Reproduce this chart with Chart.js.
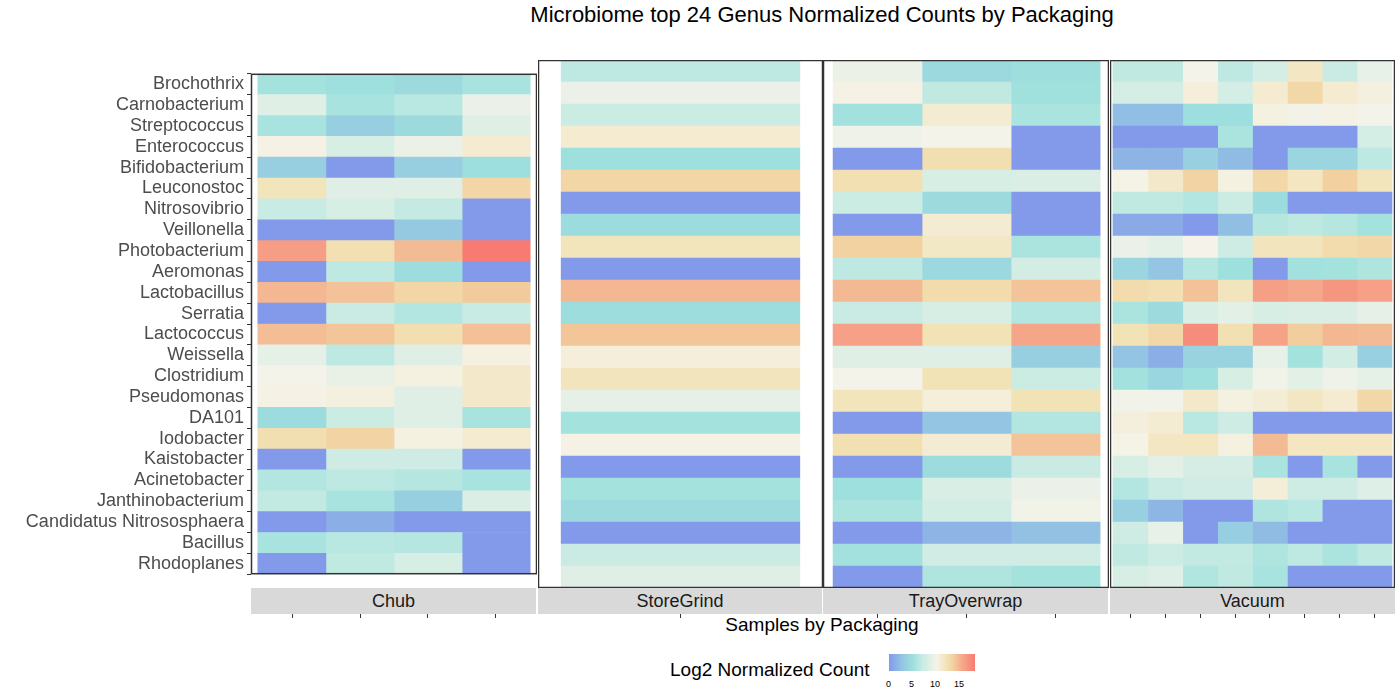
<!DOCTYPE html>
<html>
<head>
<meta charset="UTF-8">
<title>Microbiome heatmap</title>
<script src="https://cdn.jsdelivr.net/npm/chart.js"></script>
<style>
  body { margin: 0; width: 1400px; height: 700px; background: #fff; font-family: "Liberation Sans", Arial, sans-serif; position: relative; overflow: hidden; }
  .abs { position: absolute; }
  .strip { position: absolute; top: 588px; height: 26px; background: #d9d9d9; color: #1a1a1a; font-size: 18px; text-align: center; line-height: 26px; }
  .tick { position: absolute; top: 614px; width: 1px; height: 4px; background: #333; }
</style>
</head>
<body>
<div class="abs" style="left:0;width:1644px;top:2px;text-align:center;font-size:22px;color:#000">Microbiome top 24 Genus Normalized Counts by Packaging</div>

<div class="abs" style="left:0;top:60px;width:537px;height:528px"><canvas id="c0"></canvas></div>
<div class="abs" style="left:538px;top:60px;width:285px;height:528px"><canvas id="c1"></canvas></div>
<div class="abs" style="left:823px;top:60px;width:286px;height:528px"><canvas id="c2"></canvas></div>
<div class="abs" style="left:1110px;top:60px;width:285px;height:528px"><canvas id="c3"></canvas></div>

<div class="strip" style="left:251px;width:285px">Chub</div>
<div class="strip" style="left:538px;width:284px">StoreGrind</div>
<div class="strip" style="left:823px;width:285px">TrayOverwrap</div>
<div class="strip" style="left:1110px;width:285px">Vacuum</div>
<div id="ticks"></div>

<div class="abs" style="left:0;width:1644px;top:614px;text-align:center;font-size:19px;color:#000">Samples by Packaging</div>

<div class="abs" style="left:670px;top:659px;font-size:19px;color:#000">Log2 Normalized Count</div>
<div id="bar" class="abs" style="left:889px;top:654px;width:86px;height:17px"></div>
<div class="abs" style="left:886px;top:679px;font-size:9px;color:#000">0</div>
<div class="abs" style="left:909px;top:679px;font-size:9px;color:#000">5</div>
<div class="abs" style="left:930px;top:679px;font-size:9px;color:#000">10</div>
<div class="abs" style="left:954px;top:679px;font-size:9px;color:#000">15</div>

<script>
// ======= Datos =======
const genus = ['Brochothrix','Carnobacterium','Streptococcus','Enterococcus','Bifidobacterium','Leuconostoc',
  'Nitrosovibrio','Veillonella','Photobacterium','Aeromonas','Lactobacillus','Serratia','Lactococcus',
  'Weissella','Clostridium','Pseudomonas','DA101','Iodobacter','Kaistobacter','Acinetobacter',
  'Janthinobacterium','Candidatus Nitrososphaera','Bacillus','Rhodoplanes'];

const packaging = ['Chub', 'StoreGrind', 'TrayOverwrap', 'Vacuum'];

// one row per genus, one value per sample
const chub = [
  [5.3,5,4.5,5.5],[8.5,5.5,6.3,9.3],[5.5,3.5,4.5,8.5],[10.2,8,9.4,11],[3.5,0,3.5,4.8],[11.8,8.6,8.6,13],
  [7,8,6.8,0],[0,0,3,0],[16,12.2,14.4,18],[0,6.5,4.7,0],[14.6,14.1,13,13.7],[0,7.1,6,7],
  [14.3,13.9,12.4,14.2],[8.9,6.5,8.6,10.3],[9.9,9.2,10.3,11.2],[10.2,10.4,8.6,11.2],[4.6,7.2,8.6,5.5],[12.3,13.1,10.3,11],
  [0,7.4,7.4,0],[6,6.5,6.1,5.5],[6.7,5.5,3.5,8.2],[0,1.3,0,0],[5.5,6.3,6.1,0],[0,6.6,8,0]
];
const storeGrind = [
  [6.5],[9.3],[7.2],[11],[5],[13],[0],[4.6],[11.8],[0],[14.6],[4.7],
  [13.9],[10.6],[11.7],[9],[5.3],[10.2],[0],[5.3],[4.5],[0],[7.1],[8.5]
];
const trayOverwrap = [
  [9.4,4.4,4.9],[10.2,6.6,5.1],[5.2,10.9,5.6],[9.6,9.9,0],[0,12.3,0],[12.2,8,8.2],
  [7.2,4.5,0],[0,10.9,0],[13.3,11.4,5.6],[6.5,4.3,7.7],[14.5,12.6,14],[7.1,8,6],
  [15.8,12,15.5],[8.5,8.5,3.5],[9.9,12,7.2],[11.8,10.6,12],[0,2.8,6],[12.2,10.9,14],
  [0,4.6,7.1],[5,8.1,9.3],[5.6,7.6,9.7],[0,1.7,2.5],[5.2,7.5,7.5],[0,5.8,5.3]
];
const vacuum = [
  [6.6,6.6,9.9,6.5,7.8,11.5,7.1,9.1],[7.8,7.8,10.6,7.8,11,12.8,11,10.4],[2.3,2.3,4.8,4.8,10.3,9.8,10.2,9.9],
  [0,0,0,5.6,0,0,0,7.8],[1.7,1.7,3.6,2.2,0,4,4,6.5],[10.1,11.2,13.2,10.3,12.8,11.6,13.4,11.8],
  [6.6,6.6,6,7.2,4.6,0,0,0],[1,1,0,2.4,6.1,6.5,6.1,5.3],[9.3,8.8,10,7.4,11.7,11.7,12.5,12.8],
  [4,2.8,6.1,5,0,5.2,5.3,5.8],[12.6,12.2,14.1,11.7,15.9,15.4,16.4,15.8],[5.6,4.5,8.1,8.7,8,8.2,8.2,9],
  [12,12.8,17,12.2,15.7,13.6,14.6,14.4],[2.7,1.3,3.9,3.9,9.1,5.3,7.6,3.6],[5.2,4.1,5,8,9.7,8.7,9.5,8.9],
  [9.7,9.7,11.2,10.3,10.8,11.5,11,12.8],[10.5,10.9,6.3,7.4,0,0,0,0],[10.1,11.5,11.6,10.3,14.4,11.6,11.6,11.6],
  [8,8.8,7.9,7.9,5.6,0,5.5,0],[6,7.1,7.5,7.5,10.7,7.4,7.4,8.4],[3.6,1.8,0,0,5.8,6.3,0,0],
  [7.4,9.1,0,3.4,2.2,0,0,0],[6.6,7.3,6.7,6.7,5.8,6.5,5.6,6.6],[8,8.4,5.9,6.6,5.5,0,0,0]
];

// ======= Escala de color =======
const stops = [
  [0,[131,153,234]],[3,[149,201,226]],[5,[158,224,221]],[7,[200,235,227]],[10,[245,243,233]],
  [12,[242,227,182]],[13.5,[242,207,158]],[15,[244,174,142]],[18,[247,123,114]]
];
function colorFor(v) {
  for (let i = 1; i < stops.length; i++) {
    if (v <= stops[i][0]) {
      const [a, ca] = stops[i - 1], [b, cb] = stops[i];
      const t = (v - a) / (b - a);
      const c = ca.map((x, k) => Math.round(x + (cb[k] - x) * t));
      return `rgb(${c.join(',')})`;
    }
  }
  return 'rgb(247,123,114)';
}
document.getElementById('bar').style.background =
  'linear-gradient(to right,' + stops.map(s => colorFor(s[0]) + ' ' + (s[0] / 18 * 100) + '%').join(',') + ')';

// ======= Gráficos =======
const panelBorder = {
  id: 'panelBorder',
  afterDraw(chart) {
    const a = chart.chartArea, ctx = chart.ctx;
    ctx.save();
    ctx.strokeStyle = '#333';
    ctx.lineWidth = 1.5;
    ctx.strokeRect(a.left + 0.5, a.top + 0.5, a.width - 1, a.height - 1);
    ctx.restore();
  }
};

function crearPanel(id, values, xmin, xmax, showY) {
  const n = values[0].length;
  const datasets = [];
  for (let c = 0; c < n; c++) {
    datasets.push({
      data: values.map(() => [c, c + 1]),
      backgroundColor: values.map(r => colorFor(r[c])),
      borderWidth: 0,
      grouped: false,
      barPercentage: 1,
      categoryPercentage: 1
    });
  }
  return new Chart(document.getElementById(id), {
    type: 'bar',
    data: { labels: genus, datasets: datasets },
    options: {
      indexAxis: 'y',
      responsive: true,
      maintainAspectRatio: false,
      animation: false,
      layout: { padding: 0 },
      plugins: { legend: { display: false }, tooltip: { enabled: false } },
      scales: {
        x: { type: 'linear', min: xmin, max: xmax, display: false },
        y: {
          display: showY,
          offset: true,
          grid: { display: showY, drawOnChartArea: false, tickLength: 4, color: '#333' },
          border: { display: false },
          ticks: { color: '#4d4d4d', font: { size: 18, family: 'Liberation Sans' }, padding: 3, autoSkip: false },
          afterFit: s => { if (showY) s.width = 251; }
        }
      }
    },
    plugins: [panelBorder]
  });
}

crearPanel('c0', chub, -0.1, 4.1, true);
crearPanel('c1', storeGrind, -0.097, 1.097, false);
crearPanel('c2', trayOverwrap, -0.113, 3.1, false);
crearPanel('c3', vacuum, -0.086, 8.086, false);

// marcas del eje x bajo las franjas
const panels = [[258, 529, 4], [561, 799, 1], [833, 1099, 3], [1113, 1391, 8]];
let html = '';
panels.forEach(([a, b, n]) => {
  const w = (b - a) / n;
  for (let i = 0; i < n; i++) html += `<div class="tick" style="left:${Math.round(a + w * (i + 0.5))}px"></div>`;
});
document.getElementById('ticks').innerHTML = html;
</script>
</body>
</html>
